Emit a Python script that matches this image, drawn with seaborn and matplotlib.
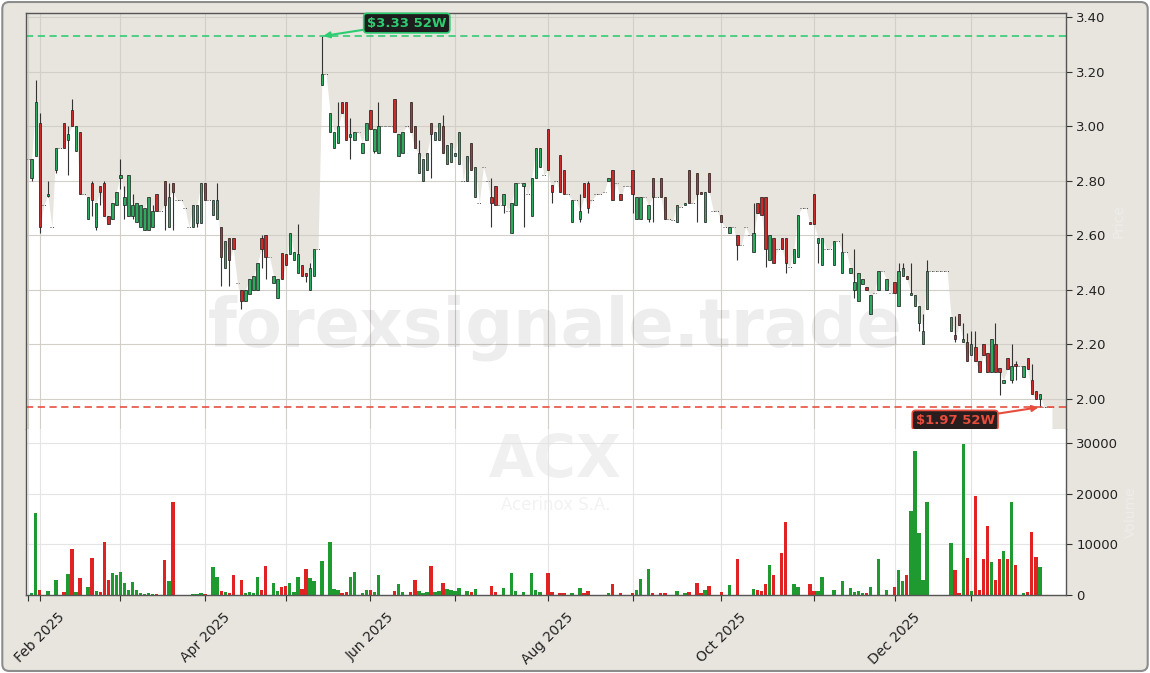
#%% Imports

import numpy as np
import pandas as pd
import matplotlib
matplotlib.use('Agg')
import matplotlib.pyplot as plt
from matplotlib.patches import FancyBboxPatch
import seaborn as sns

#%% Data

ticker = 'ACX'
company = 'Acerinox S.A.'
watermark = 'forexsignale.trade'

# trading calendar used by the chart (BME style, no half days)
holidays = ['2025-04-18', '2025-04-21', '2025-05-01', '2025-12-24',
            '2025-12-25', '2025-12-26', '2025-12-31', '2026-01-01']
dates = pd.bdate_range('2025-01-29', '2026-01-30', freq='C', holidays=holidays)

opens = [
    2.88, 2.81, 2.89, 3.01, 2.71, 2.745, 2.63, 2.84, 2.92, 3.01,
    2.95, 3.06, 2.91, 2.98, 2.75, 2.66, 2.79, 2.63, 2.78, 2.79,
    2.67, 2.66, 2.71, 2.81, 2.71, 2.67, 2.67, 2.65, 2.63, 2.62,
    2.62, 2.63, 2.75, 2.69, 2.80, 2.63, 2.79, 2.73, 2.73, 2.70,
    2.63, 2.63, 2.645, 2.645, 2.79, 2.73, 2.675, 2.66, 2.63, 2.48,
    2.59, 2.59, 2.425, 2.40, 2.36, 2.385, 2.40, 2.40, 2.59, 2.60,
    2.52, 2.425, 2.37, 2.535, 2.53, 2.53, 2.51, 2.46, 2.49, 2.46,
    2.40, 2.45, 2.55, 3.15, 3.19, 2.98, 2.92, 2.94, 3.09, 3.09,
    2.96, 2.95, 2.98, 2.90, 2.95, 3.06, 2.91, 2.90, 3.00, 3.00,
    3.00, 3.10, 2.89, 2.90, 3.00, 3.09, 3.00, 2.83, 2.80, 2.84,
    3.01, 2.95, 2.95, 3.00, 2.86, 2.87, 2.89, 2.86, 2.80, 2.80,
    2.94, 2.74, 2.72, 2.85, 2.80, 2.74, 2.78, 2.71, 2.71, 2.69,
    2.61, 2.71, 2.79, 2.78, 2.75, 2.67, 2.81, 2.85, 2.82, 2.99,
    2.785, 2.80, 2.895, 2.84, 2.75, 2.65, 2.73, 2.66, 2.79, 2.79,
    2.73, 2.75, 2.75, 2.76, 2.80, 2.84, 2.79, 2.75, 2.78, 2.78,
    2.84, 2.66, 2.66, 2.74, 2.66, 2.81, 2.74, 2.81, 2.74, 2.66,
    2.655, 2.65, 2.705, 2.71, 2.84, 2.72, 2.83, 2.76, 2.65, 2.83,
    2.69, 2.69, 2.675, 2.63, 2.61, 2.63, 2.60, 2.565, 2.63, 2.60,
    2.54, 2.72, 2.74, 2.74, 2.51, 2.59, 2.55, 2.59, 2.59, 2.485,
    2.50, 2.52, 2.70, 2.70, 2.65, 2.75, 2.57, 2.49, 2.55, 2.55,
    2.49, 2.58, 2.46, 2.54, 2.46, 2.40, 2.36, 2.42, 2.41, 2.31,
    2.39, 2.40, 2.47, 2.40, 2.39, 2.43, 2.34, 2.45, 2.45, 2.38,
    2.34, 2.28, 2.20, 2.33, 2.47, 2.47, 2.47, 2.47, 2.47, 2.25,
    2.235, 2.31, 2.21, 2.21, 2.16, 2.19, 2.14, 2.20, 2.17, 2.10,
    2.20, 2.115, 2.06, 2.15, 2.07, 2.13, 2.12, 2.08, 2.15, 2.07,
    2.03, 2.00, 1.97, 1.97, 1.97]

highs = [
    2.88, 2.88, 3.17, 3.05, 2.71, 2.80, 2.63, 2.92, 2.92, 3.01,
    3.00, 3.10, 3.00, 2.98, 2.75, 2.74, 2.80, 2.72, 2.78, 2.80,
    2.67, 2.72, 2.76, 2.88, 2.78, 2.82, 2.75, 2.72, 2.71, 2.70,
    2.74, 2.71, 2.75, 2.69, 2.80, 2.79, 2.79, 2.73, 2.73, 2.70,
    2.63, 2.71, 2.71, 2.79, 2.79, 2.73, 2.73, 2.79, 2.63, 2.58,
    2.59, 2.59, 2.425, 2.40, 2.40, 2.44, 2.45, 2.50, 2.60, 2.60,
    2.52, 2.45, 2.44, 2.535, 2.53, 2.61, 2.54, 2.64, 2.49, 2.46,
    2.50, 2.55, 2.55, 3.33, 3.19, 3.05, 2.98, 3.09, 3.09, 3.09,
    3.03, 2.98, 2.98, 2.94, 3.01, 3.06, 2.99, 3.09, 3.00, 3.00,
    3.00, 3.10, 2.97, 2.98, 3.00, 3.09, 3.00, 2.95, 2.88, 2.90,
    3.01, 2.98, 3.01, 3.04, 2.93, 2.94, 2.90, 2.98, 2.80, 2.89,
    2.94, 2.85, 2.72, 2.85, 2.80, 2.81, 2.78, 2.71, 2.75, 2.69,
    2.72, 2.79, 2.79, 2.79, 2.75, 2.81, 2.92, 2.92, 2.82, 2.99,
    2.785, 2.80, 2.895, 2.84, 2.75, 2.73, 2.73, 2.75, 2.79, 2.80,
    2.73, 2.75, 2.75, 2.76, 2.81, 2.84, 2.79, 2.75, 2.78, 2.78,
    2.84, 2.74, 2.74, 2.74, 2.71, 2.81, 2.74, 2.81, 2.74, 2.66,
    2.655, 2.71, 2.705, 2.72, 2.84, 2.72, 2.83, 2.76, 2.76, 2.83,
    2.69, 2.69, 2.675, 2.63, 2.63, 2.63, 2.60, 2.565, 2.63, 2.60,
    2.72, 2.72, 2.74, 2.74, 2.60, 2.59, 2.55, 2.59, 2.59, 2.485,
    2.55, 2.675, 2.70, 2.70, 2.65, 2.75, 2.59, 2.59, 2.55, 2.55,
    2.58, 2.58, 2.61, 2.54, 2.48, 2.55, 2.46, 2.44, 2.41, 2.38,
    2.39, 2.47, 2.47, 2.44, 2.39, 2.43, 2.50, 2.50, 2.45, 2.50,
    2.38, 2.34, 2.31, 2.51, 2.47, 2.47, 2.47, 2.47, 2.47, 2.30,
    2.305, 2.31, 2.28, 2.24, 2.25, 2.25, 2.14, 2.20, 2.17, 2.22,
    2.28, 2.115, 2.07, 2.15, 2.20, 2.14, 2.12, 2.12, 2.15, 2.13,
    2.03, 2.02, 1.97, 1.97, 1.97]

lows = [
    2.88, 2.80, 2.89, 2.61, 2.71, 2.74, 2.63, 2.83, 2.92, 2.92,
    2.82, 3.00, 2.91, 2.75, 2.75, 2.66, 2.67, 2.62, 2.71, 2.67,
    2.64, 2.66, 2.71, 2.77, 2.66, 2.67, 2.66, 2.65, 2.63, 2.62,
    2.62, 2.63, 2.69, 2.69, 2.62, 2.63, 2.62, 2.73, 2.73, 2.70,
    2.63, 2.63, 2.63, 2.645, 2.73, 2.73, 2.675, 2.66, 2.415, 2.48,
    2.415, 2.55, 2.425, 2.33, 2.36, 2.385, 2.40, 2.40, 2.48, 2.44,
    2.52, 2.425, 2.37, 2.44, 2.49, 2.53, 2.51, 2.46, 2.45, 2.43,
    2.40, 2.45, 2.55, 3.15, 3.19, 2.98, 2.92, 2.94, 3.05, 2.95,
    2.88, 2.95, 2.98, 2.90, 2.95, 2.99, 2.90, 2.90, 3.00, 3.00,
    3.00, 2.98, 2.89, 2.90, 3.00, 2.98, 2.92, 2.83, 2.80, 2.84,
    2.81, 2.95, 2.95, 2.90, 2.86, 2.87, 2.89, 2.86, 2.80, 2.80,
    2.84, 2.74, 2.72, 2.85, 2.80, 2.63, 2.71, 2.71, 2.68, 2.69,
    2.61, 2.71, 2.79, 2.63, 2.75, 2.67, 2.81, 2.85, 2.82, 2.84,
    2.72, 2.80, 2.76, 2.75, 2.75, 2.65, 2.73, 2.65, 2.74, 2.68,
    2.73, 2.75, 2.75, 2.76, 2.80, 2.73, 2.79, 2.73, 2.78, 2.78,
    2.68, 2.66, 2.66, 2.74, 2.65, 2.65, 2.74, 2.74, 2.66, 2.66,
    2.655, 2.65, 2.705, 2.71, 2.72, 2.72, 2.65, 2.75, 2.65, 2.76,
    2.69, 2.69, 2.65, 2.63, 2.61, 2.63, 2.51, 2.565, 2.63, 2.60,
    2.54, 2.68, 2.675, 2.485, 2.51, 2.50, 2.55, 2.55, 2.46, 2.485,
    2.50, 2.52, 2.70, 2.70, 2.64, 2.64, 2.50, 2.49, 2.55, 2.55,
    2.49, 2.58, 2.46, 2.54, 2.46, 2.37, 2.36, 2.42, 2.40, 2.31,
    2.39, 2.40, 2.47, 2.40, 2.39, 2.39, 2.34, 2.45, 2.44, 2.38,
    2.34, 2.25, 2.20, 2.33, 2.47, 2.47, 2.47, 2.47, 2.47, 2.25,
    2.21, 2.27, 2.21, 2.14, 2.16, 2.14, 2.10, 2.16, 2.10, 2.10,
    2.10, 2.015, 2.06, 2.11, 2.06, 2.07, 2.12, 2.08, 2.11, 2.02,
    2.00, 1.97, 1.97, 1.97, 1.97]

closes = [
    2.88, 2.88, 3.09, 2.63, 2.71, 2.75, 2.63, 2.92, 2.92, 2.92,
    2.97, 3.00, 3.00, 2.75, 2.75, 2.74, 2.73, 2.72, 2.76, 2.67,
    2.64, 2.72, 2.76, 2.82, 2.74, 2.82, 2.71, 2.72, 2.71, 2.70,
    2.74, 2.69, 2.69, 2.69, 2.71, 2.74, 2.76, 2.73, 2.73, 2.70,
    2.63, 2.71, 2.71, 2.79, 2.73, 2.73, 2.73, 2.73, 2.52, 2.58,
    2.51, 2.55, 2.425, 2.36, 2.40, 2.44, 2.45, 2.50, 2.55, 2.52,
    2.52, 2.45, 2.44, 2.44, 2.49, 2.61, 2.54, 2.53, 2.45, 2.45,
    2.48, 2.55, 2.55, 3.19, 3.19, 3.05, 2.98, 3.00, 3.05, 2.95,
    2.97, 2.98, 2.98, 2.94, 3.01, 2.99, 2.99, 3.00, 3.00, 3.00,
    3.00, 2.98, 2.97, 2.98, 3.00, 2.98, 2.92, 2.90, 2.88, 2.90,
    2.97, 2.98, 3.01, 2.90, 2.93, 2.94, 2.90, 2.98, 2.80, 2.89,
    2.84, 2.85, 2.72, 2.85, 2.80, 2.72, 2.71, 2.71, 2.75, 2.69,
    2.72, 2.79, 2.79, 2.79, 2.75, 2.81, 2.92, 2.92, 2.82, 2.84,
    2.76, 2.80, 2.76, 2.75, 2.75, 2.73, 2.73, 2.69, 2.74, 2.70,
    2.73, 2.75, 2.75, 2.76, 2.81, 2.73, 2.79, 2.73, 2.78, 2.78,
    2.75, 2.74, 2.74, 2.74, 2.71, 2.74, 2.74, 2.74, 2.66, 2.66,
    2.655, 2.71, 2.705, 2.72, 2.72, 2.72, 2.75, 2.75, 2.76, 2.76,
    2.69, 2.69, 2.65, 2.63, 2.63, 2.63, 2.565, 2.565, 2.63, 2.60,
    2.61, 2.68, 2.675, 2.55, 2.60, 2.50, 2.55, 2.55, 2.50, 2.485,
    2.55, 2.675, 2.70, 2.70, 2.64, 2.64, 2.59, 2.59, 2.55, 2.55,
    2.58, 2.58, 2.54, 2.54, 2.48, 2.43, 2.46, 2.44, 2.40, 2.38,
    2.39, 2.47, 2.47, 2.44, 2.39, 2.39, 2.47, 2.48, 2.44, 2.39,
    2.38, 2.34, 2.25, 2.47, 2.47, 2.47, 2.47, 2.47, 2.47, 2.30,
    2.22, 2.27, 2.22, 2.14, 2.20, 2.14, 2.10, 2.16, 2.10, 2.22,
    2.10, 2.10, 2.07, 2.11, 2.12, 2.12, 2.12, 2.12, 2.11, 2.02,
    2.00, 2.02, 1.97, 1.97, 1.97]

volumes = [
    0, 400, 16200, 1000, 0, 800, 0, 3000, 0, 600,
    4200, 9100, 600, 3300, 0, 1600, 7300, 800, 500, 10500,
    3000, 4400, 4000, 4600, 2400, 1000, 2600, 1000, 300, 200,
    300, 200, 200, 0, 6900, 2800, 18300, 0, 0, 0,
    0, 200, 200, 300, 200, 0, 5500, 3500, 800, 600,
    300, 3900, 0, 2900, 300, 500, 300, 3500, 1000, 5800,
    0, 2400, 800, 1600, 1800, 2400, 600, 3500, 1200, 5200,
    3400, 2800, 0, 6700, 0, 10500, 1200, 1000, 400, 600,
    3500, 4500, 0, 400, 1000, 1000, 500, 4000, 0, 0,
    0, 800, 2200, 600, 0, 600, 3000, 800, 400, 600,
    5700, 600, 800, 2400, 1200, 1000, 800, 1400, 0, 800,
    600, 1200, 0, 0, 0, 1800, 500, 0, 1400, 0,
    4400, 800, 0, 600, 0, 4400, 1000, 600, 0, 4400,
    500, 0, 400, 300, 0, 400, 0, 1400, 300, 800,
    0, 0, 0, 0, 300, 2200, 0, 300, 0, 0,
    400, 1000, 3200, 0, 5200, 400, 0, 300, 300, 0,
    0, 800, 0, 300, 600, 0, 2400, 300, 1000, 1800,
    0, 0, 500, 0, 2000, 0, 7100, 0, 0, 0,
    1200, 1000, 800, 2200, 6000, 4000, 0, 8300, 14500, 0,
    2200, 1500, 0, 0, 2200, 800, 800, 3500, 0, 0,
    1000, 0, 2800, 0, 1400, 500, 800, 400, 300, 1500,
    0, 7100, 0, 1000, 0, 1560, 4930, 2760, 3940, 16540,
    28400, 12200, 2960, 18400, 0, 0, 0, 0, 0, 10250,
    4930, 400, 29800, 7300, 800, 19500, 1000, 7100, 13600, 6500,
    3000, 7100, 8600, 7100, 18300, 5900, 0, 300, 600, 12400,
    7500, 5500, 0, 0, 0]

#%% Frame

df = pd.DataFrame({'date': dates, 'open': opens, 'high': highs,
                   'low': lows, 'close': closes, 'volume': volumes})
df['x'] = np.arange(len(df))
df['dir'] = np.where(df['close'] >= df['open'], 'up', 'down')
flat = (df['high'] == df['low'])

bg = '#e8e5df'
up_c, down_c = '#2eaa5e', '#cc2b2b'
vol_up, vol_down = '#1f9a30', '#e02222'
hi_c, lo_c = '#2ecc71', '#e74c3c'

#%% Figure

sns.set_style('white')
plt.rcParams['font.family'] = ['DejaVu Sans']

fig = plt.figure(figsize=(11.5, 6.73), dpi=100, facecolor='white')
fig.add_artist(FancyBboxPatch((0.002, 0.003), 0.996, 0.994,
                              boxstyle='round,pad=0,rounding_size=0.006',
                              mutation_aspect=1150 / 673,
                              transform=fig.transFigure, fc=bg, ec='#8c8c8c',
                              lw=1.5, zorder=-10))

ax = fig.add_axes([0.0223, 0.3626, 0.9047, 0.6181])
axv = fig.add_axes([0.0223, 0.1159, 0.9047, 0.2467], sharex=ax)

#%% Price panel

ax.set_facecolor(bg)
ax.fill_between(df['x'], df['close'], 1.5, color='white', lw=0, zorder=0.5)

c = df[~flat]
ax.vlines(c['x'], c['low'], c['high'], color='#333333', lw=0.8, zorder=2)
body_lo = np.minimum(c['open'], c['close'])
body_h = np.abs(c['close'] - c['open'])
ax.bar(c['x'], body_h, bottom=body_lo, width=0.6,
       color=np.where(c['dir'] == 'up', up_c, down_c),
       edgecolor='#1a1a1a', linewidth=0.5, zorder=3)

f = df[flat]
ax.hlines(f['close'], f['x'] - 0.45, f['x'] + 0.45, color='#444444',
          lw=0.7, linestyles=(0, (1, 1.5)), zorder=2)

i_hi = int(df['high'].idxmax())
i_lo = int(df['low'].idxmin())
hi52, lo52 = df['high'].max(), df['low'].min()
ax.axhline(hi52, color=hi_c, ls='--', lw=1.3, dashes=(4, 2.5), alpha=0.9, zorder=2.5)
ax.axhline(lo52, color=lo_c, ls='--', lw=1.3, dashes=(4, 2.5), alpha=0.9, zorder=2.5)

ax.annotate(f'${hi52:.2f} 52W', xy=(i_hi, hi52), xytext=(61, 9.4),
            textcoords='offset points', ha='center', va='center',
            fontsize=9.5, fontweight='bold', color=hi_c,
            bbox=dict(boxstyle='round,pad=0.25', fc='#1d1d1d', ec=hi_c, lw=1.2),
            arrowprops=dict(arrowstyle='-|>', color=hi_c, lw=1.5,
                            mutation_scale=9, shrinkA=0, shrinkB=1),
            zorder=6)
ax.annotate(f'${lo52:.2f} 52W', xy=(i_lo, lo52), xytext=(-61, -9.4),
            textcoords='offset points', ha='center', va='center',
            fontsize=9.5, fontweight='bold', color=lo_c,
            bbox=dict(boxstyle='round,pad=0.25', fc='#2a1d1d', ec=lo_c, lw=1.2),
            arrowprops=dict(arrowstyle='-|>', color=lo_c, lw=1.5,
                            mutation_scale=9, shrinkA=0, shrinkB=1),
            zorder=6)

ax.text(0.509, 0.243, watermark, transform=ax.transAxes, ha='center',
        va='center', fontsize=48, fontweight='bold', color='black',
        alpha=0.07, zorder=1)

ax.set_ylim(1.89, 3.415)
ax.set_yticks(np.arange(2.0, 3.41, 0.2))
ax.yaxis.set_major_formatter(matplotlib.ticker.StrMethodFormatter('{x:.2f}'))
ax.set_ylabel('Price', color='white', alpha=0.3, fontsize=10)
ax.yaxis.set_label_position('right')

#%% Volume panel

axv.set_facecolor('white')
sns.barplot(data=df, x='x', y='volume', hue='dir', native_scale=True,
            palette={'up': vol_up, 'down': vol_down}, width=0.85,
            dodge=False, errorbar=None, saturation=1, legend=False,
            linewidth=0, ax=axv, zorder=2)

axv.text(0.509, 0.81, ticker, transform=axv.transAxes, ha='center',
         va='center', fontsize=42, fontweight='bold', color='black',
         alpha=0.06, zorder=0.5)
axv.text(0.509, 0.545, company, transform=axv.transAxes, ha='center',
         va='center', fontsize=12, color='black', alpha=0.05, zorder=0.5)

axv.set_ylim(0, 32800)
axv.set_yticks([0, 10000, 20000, 30000])
axv.set_ylabel('Volume', color='white', alpha=0.3, fontsize=10)
axv.yaxis.set_label_position('right')
axv.set_xlabel('')

#%% Shared styling

month_start = df.groupby(df['date'].dt.to_period('M'))['x'].min()
tick_lbls = [d.strftime('%b %Y') if d.month % 2 == 0 else ''
             for d in df.loc[month_start.values, 'date']]
axv.set_xticks(month_start.values)
axv.set_xticklabels(tick_lbls, rotation=45, ha='center')
axv.set_xlim(-0.5, len(df) + 2.5)

for a in (ax, axv):
    a.yaxis.tick_right()
    a.grid(True, color='#d2cfc9' if a is ax else '#e4e4e4', lw=0.8, zorder=0)
    a.set_axisbelow(True)
    a.tick_params(axis='y', which='both', right=True, left=False,
                  length=4, width=0.8, color='#333333', labelsize=9.5,
                  labelcolor='#222222')
    for s in a.spines.values():
        s.set_color('#555555')
        s.set_linewidth(1.0)

ax.spines['bottom'].set_visible(False)
axv.spines['top'].set_visible(False)
ax.tick_params(axis='x', bottom=False, labelbottom=False)
axv.tick_params(axis='x', bottom=True, length=4, width=0.8, color='#333333',
                labelsize=10, labelcolor='#222222', pad=7)

fig.savefig('out.png', dpi=100)
